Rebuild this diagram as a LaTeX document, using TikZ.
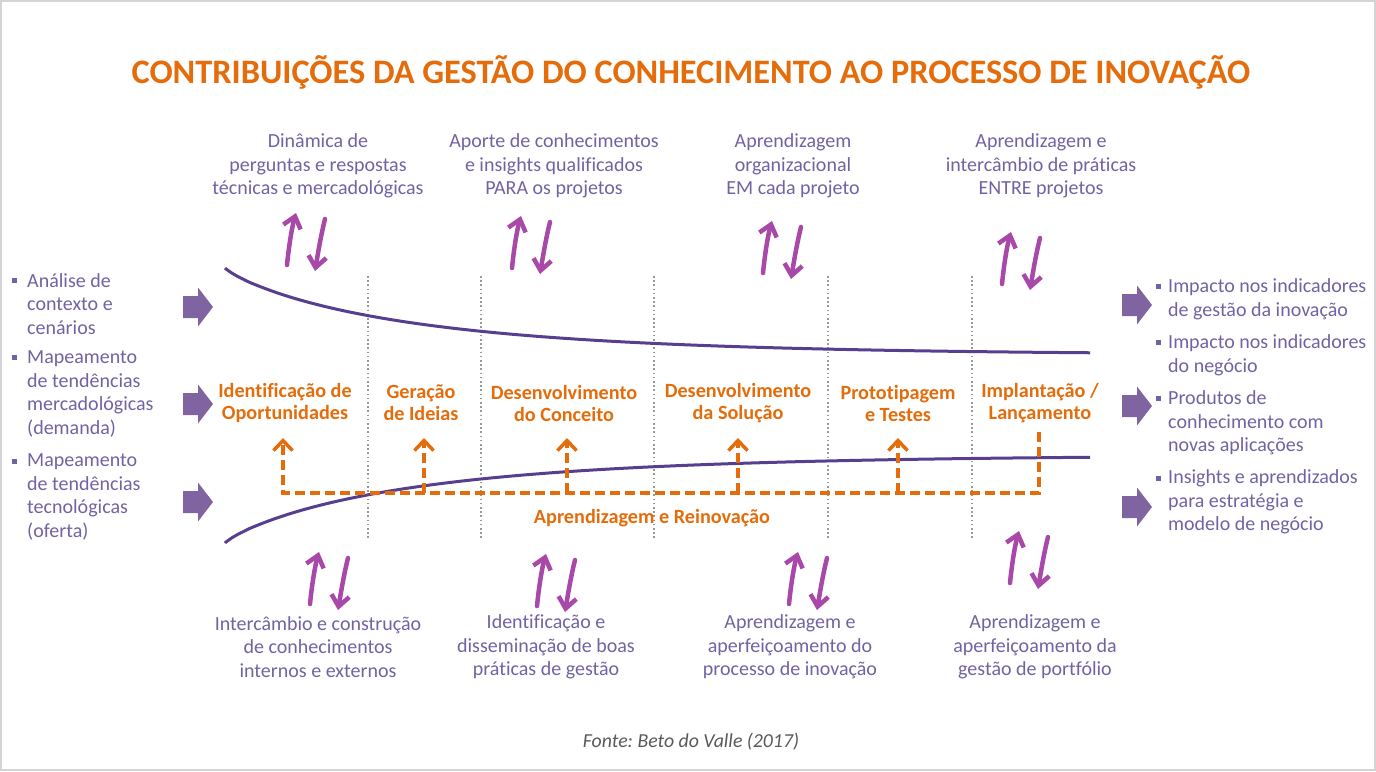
\documentclass[tikz,border=0pt]{standalone}
\usepackage{fontspec}
\setmainfont{Carlito}[Ligatures={NoCommon,NoContextual}]
\usetikzlibrary{arrows.meta}
\definecolor{org}{HTML}{E46C0A}
\definecolor{ptxt}{HTML}{7262A2}
\definecolor{parr}{HTML}{8064A2}
\definecolor{curvec}{HTML}{583E8E}
\definecolor{mag}{HTML}{A848A8}
\definecolor{sepgray}{HTML}{999999}
\definecolor{framec}{HTML}{D4D4D4}
\tikzset{
  pairarrows/.pic={
    \draw[hand] (0,0) .. controls (2,-20) and (5,-38) .. (9,-52);
    \draw[hand] (38,-46) .. controls (34,-30) and (31,-12) .. (28,6);
  },
  blockarr/.pic={
    \fill[parr] (-15,-11) -- (0,-11) -- (0,-19.5) -- (15,0) -- (0,19.5) -- (0,11) -- (-15,11) -- cycle;
  }
}
\frenchspacing
\begin{document}
\begin{tikzpicture}[x=1pt,y=-1pt,
  txt/.style={text=ptxt,font=\fontsize{20}{23.6}\selectfont,inner sep=0pt,align=center},
  side/.style={txt,align=left,anchor=west},
  stage/.style={text=org,font=\bfseries\fontsize{20.2}{22}\selectfont,inner sep=0pt,align=center},
  fb/.style={draw=org,line width=3.5pt,dash pattern=on 10pt off 5pt},
  fbtip/.style={-{Straight Barb[length=10pt,width=19pt]}},
  sep/.style={draw=sepgray,line width=1.6pt,dash pattern=on 1.6pt off 2.6pt},
  curve/.style={draw=curvec,line width=3pt},
  hand/.style={draw=mag,line width=4.5pt,line cap=round,-{Straight Barb[length=11pt,width=18pt]}},
  bullet/.style={fill=ptxt}
]
\useasboundingbox (0,0) rectangle (1376,771);
\draw[framec,line width=2pt] (1,1) rectangle (1375,770);

% title
\node[text=org,font=\bfseries\fontsize{34.3}{40}\selectfont,inner sep=0pt] (title) at (691,72)
  {CONTRIBUIÇÕES DA GESTÃO DO CONHECIMENTO AO PROCESSO DE INOVAÇÃO};

% top texts
\node[txt] (t1) at (318,166) {Dinâmica de\\perguntas e respostas\\técnicas e mercadológicas};
\node[txt] (t2) at (554,166) {Aporte de conhecimentos\\e insights qualificados\\PARA os projetos};
\node[txt] (t3) at (793,166) {Aprendizagem\\organizacional\\EM cada projeto};
\node[txt] (t4) at (1041,166) {Aprendizagem e\\intercâmbio de práticas\\ENTRE projetos};

% bottom texts
\node[txt] (b1) at (318,647) {Intercâmbio e construção\\de conhecimentos\\internos e externos};
\node[txt] (b2) at (546,647) {Identificação e\\disseminação de boas\\práticas de gestão};
\node[txt] (b3) at (790,647) {Aprendizagem e\\aperfeiçoamento do\\processo de inovação};
\node[txt] (b4) at (1035,647) {Aprendizagem e\\aperfeiçoamento da\\gestão de portfólio};

% hand-drawn arrow pairs
\pic at (287,265) {pairarrows};
\pic at (512,268) {pairarrows};
\pic at (763,273) {pairarrows};
\pic at (1002,284) {pairarrows};
\pic at (310,604) {pairarrows};
\pic at (537,606) {pairarrows};
\pic at (789,604) {pairarrows};
\pic at (1010,583) {pairarrows};

% separators
\foreach \sx in {368,481,654,828,972} \draw[sep] (\sx,276) -- (\sx,540);

% funnel curves
\draw[curve] (225,268) -- plot[domain=1:865,samples=150] ({225+\x},{268+87*(1-exp(-exp(0.85*ln(\x/188))))});
\draw[curve] (225,543) -- plot[domain=1:865,samples=150] ({225+\x},{543-88*(1-exp(-exp(0.85*ln(\x/188))))});

% stages
\node[stage] (s1) at (285,403) {Identificação de\\Oportunidades};
\node[stage] (s2) at (421,403) {Geração\\de Ideias};
\node[stage] (s3) at (564,403) {Desenvolvimento\\do Conceito};
\node[stage] (s4) at (738,403) {Desenvolvimento\\da Solução};
\node[stage] (s5) at (898,403) {Prototipagem\\e Testes};
\node[stage] (s6) at (1040,403) {Implantação /\\Lançamento};

% feedback loop
\coordinate (h) at (0,493);
\coordinate (a1) at (283,438);
\coordinate (a2) at (424,438);
\coordinate (a3) at (567,438);
\coordinate (a4) at (738,438);
\coordinate (a5) at (898,438);
\coordinate (a6) at (1039,432);
\draw[fb,fbtip] (a6) -- (a6 |- h) -- (a1 |- h) -- (a1);
\foreach \k in {2,...,5} \draw[fb,fbtip] (a\k |- h) -- (a\k);
\node[text=org,font=\bfseries\fontsize{20.2}{22}\selectfont,inner sep=0pt] (loop) at (652,518) {Aprendizagem e Reinovação};

% block arrows
\pic at (198,307) {blockarr};
\pic at (198,404) {blockarr};
\pic at (198,502) {blockarr};
\pic at (1137,305) {blockarr};
\pic at (1137,406) {blockarr};
\pic at (1137,507) {blockarr};

% left texts
\node[side] (l1) at (27,304) {Análise de\\contexto e\\cenários};
\node[side] (l2) at (27,394) {Mapeamento\\de tendências\\mercadológicas\\(demanda)};
\node[side] (l3) at (27,497) {Mapeamento\\de tendências\\tecnológicas\\(oferta)};
\fill[bullet] (12,278) rectangle (17,283);
\fill[bullet] (12,355) rectangle (17,360);
\fill[bullet] (12,459) rectangle (17,464);

% right texts
\node[side] (r1) at (1168,299) {Impacto nos indicadores\\de gestão da inovação};
\node[side] (r2) at (1168,355) {Impacto nos indicadores\\do negócio};
\node[side] (r3) at (1168,423) {Produtos de\\conhecimento com\\novas aplicações};
\node[side] (r4) at (1168,502) {Insights e aprendizados\\para estratégia e\\modelo de negócio};
\fill[bullet] (1156,284) rectangle (1161,289);
\fill[bullet] (1156,340) rectangle (1161,345);
\fill[bullet] (1156,396) rectangle (1161,401);
\fill[bullet] (1156,476) rectangle (1161,481);

% source
\node[text=black!65,font=\itshape\fontsize{19.8}{24}\selectfont,inner sep=0pt] (src) at (691,742) {Fonte: Beto do Valle (2017)};
\end{tikzpicture}
\end{document}
